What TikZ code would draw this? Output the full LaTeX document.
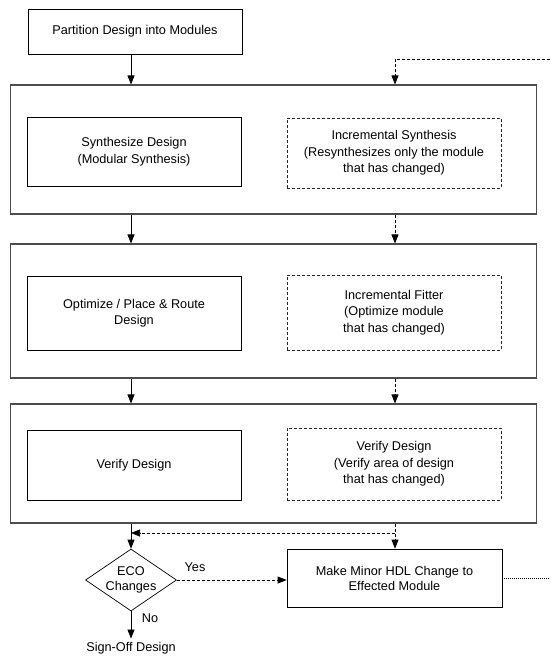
\documentclass[tikz,border=0pt]{standalone}
\usepackage{fontspec}
\setmainfont{Liberation Sans}
\usetikzlibrary{arrows.meta,shapes.geometric,positioning,calc}

\begin{document}
\begin{tikzpicture}[x=1pt,y=-1pt,
  every node/.style={font=\fontsize{12.7}{16.5}\selectfont, align=center},
  stagebox/.style={draw=black!70, line width=1.1pt, minimum width=526pt},
  solidbox/.style={draw, line width=0.7pt, minimum width=214pt},
  incbox/.style={draw=black!85, line width=0.7pt, dash pattern=on 3pt off 2pt, minimum width=214pt},
  tightlines/.style={font=\fontsize{12.7}{15}\selectfont},
  flow/.style={line width=0.7pt, -{Triangle[length=9pt,width=7pt]}},
  incflow/.style={flow, dash pattern=on 3pt off 2pt},
  loopline/.style={line width=0.7pt, dash pattern=on 3pt off 2pt},
  decision/.style={shape=diamond, draw, line width=0.7pt, inner sep=0pt, minimum width=91pt, minimum height=62pt}]
\useasboundingbox (0,0) rectangle (550,656);
%x der Pfeile links (Modular) und rechts (inkrementell)
\coordinate (mainx) at (131,0);
\coordinate (incx) at (395,0);

\node[solidbox, minimum height=45pt] (part) at (135,31.5) {Partition Design into Modules};

%Stufe 1
\node[stagebox, minimum height=129pt] (stage1) at (273.75,149.5) {};
\node[solidbox, minimum height=69pt] (synth) at (134,151.5) {Synthesize Design\\(Modular Synthesis)};
\node[incbox, minimum height=70pt] (incsyn) at (394,153) {Incremental Synthesis\\(Resynthesizes only the module\\that has changed)};

%Stufe 2
\node[stagebox, minimum height=134pt] (stage2) at (273.75,311) {};
\node[solidbox, minimum height=74pt] (optim) at (134,313) {Optimize / Place \& Route\\Design};
\node[incbox, minimum height=75pt] (incfit) at (394,312.5) {Incremental Fitter\\(Optimize module\\that has changed)};

%Stufe 3
\node[stagebox, minimum height=119pt] (stage3) at (273.75,463.5) {};
\node[solidbox, minimum height=70pt] (verify) at (134,465) {Verify Design};
\node[incbox, minimum height=72pt] (incver) at (394,464) {Verify Design\\(Verify area of design\\that has changed)};

%ECO
\node[decision] (eco) at (131,580) {};
\node[tightlines] (ecotext) at (eco) {ECO\\Changes};
\node[solidbox, tightlines, minimum width=215pt, minimum height=58pt] (hdl) at (394.5,578) {Make Minor HDL Change to\\Effected Module};
\node (signoff) at (131,648) {Sign-Off Design};
\node (yes) at (195,567) {Yes};
\node (no) at (150,618) {No};

\draw[flow] (part.south -| mainx) -- (stage1.north -| mainx);
\draw[flow] (stage1.south -| mainx) -- (stage2.north -| mainx);
\draw[flow] (stage2.south -| mainx) -- (stage3.north -| mainx);
\draw[flow] (stage3.south -| mainx) -- (eco.north);
\draw[flow] (eco.south) -- (signoff.north);

\coordinate (loopin) at (550,59);
\coordinate (loopout) at (550,578);
\coordinate (back) at (395,533);
\draw[incflow] (loopin) -| (stage1.north -| incx);
\draw[incflow] (stage1.south -| incx) -- (stage2.north -| incx);
\draw[incflow] (stage2.south -| incx) -- (stage3.north -| incx);
\draw[incflow] (stage3.south -| incx) -- (hdl.north -| incx);
\draw[incflow] (back) -- (back -| eco);
\draw[incflow] (eco.east) -- (hdl.west |- eco.east);
\draw[line width=0.7pt, dash pattern=on 1pt off 1pt] (hdl.east) -- (loopout);
\end{tikzpicture}
\end{document}
